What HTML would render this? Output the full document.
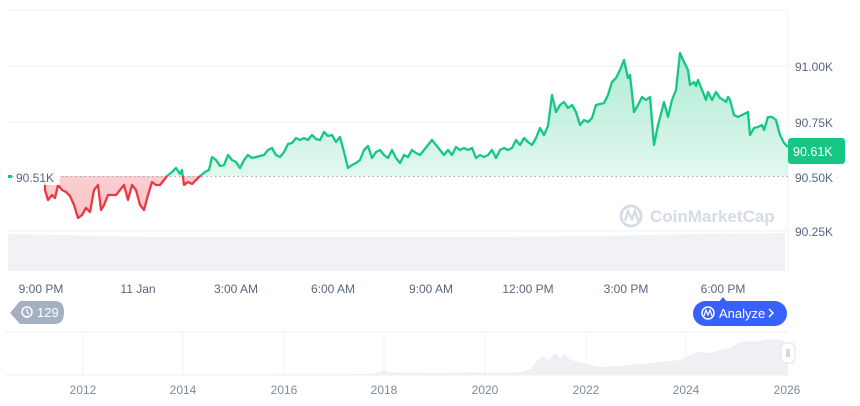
<!DOCTYPE html>
<html><head><meta charset="utf-8"><style>
body{margin:0;background:#fff;width:860px;height:401px;overflow:hidden;font-family:"Liberation Sans",sans-serif}
</style></head><body>
<svg width="860" height="401" viewBox="0 0 860 401" xmlns="http://www.w3.org/2000/svg" font-family="Liberation Sans, sans-serif">
<defs>
<linearGradient id="gg" x1="0" y1="0" x2="0" y2="1"><stop offset="0" stop-color="#16c784" stop-opacity="0.35"/><stop offset="1" stop-color="#16c784" stop-opacity="0.05"/></linearGradient>
<linearGradient id="rg" x1="0" y1="0" x2="0" y2="1"><stop offset="0" stop-color="#ea3943" stop-opacity="0.08"/><stop offset="1" stop-color="#ea3943" stop-opacity="0.3"/></linearGradient>
<clipPath id="above"><rect x="0" y="0" width="788" height="176"/></clipPath>
<clipPath id="below"><rect x="0" y="176" width="788" height="100"/></clipPath>
</defs>
<g stroke="#eff2f5" stroke-width="1">
<line x1="8" y1="10" x2="788" y2="10"/>
<line x1="8" y1="66" x2="788" y2="66"/>
<line x1="8" y1="122" x2="788" y2="122"/>
<line x1="8" y1="231" x2="788" y2="231"/>
<line x1="788" y1="10" x2="788" y2="272"/>
</g>
<rect x="8" y="237" width="777" height="34" fill="#f0f2f5"/>
<polygon points="8,234 60,235 200,238 400,238 600,236 700,234 785,233 785,237 8,237" fill="#f0f2f5"/>
<g>
<circle cx="631" cy="216" r="10" fill="none" stroke="#d5dbe5" stroke-width="2.8"/>
<path d="M625,221 L628,211 L632,219 L635,211 L638,221" fill="none" stroke="#d5dbe5" stroke-width="2.3"/>
<text x="650" y="222" font-size="17" font-weight="bold" fill="#d5dbe5">CoinMarketCap</text>
</g>
<g id="series">
<polyline id="pl" fill="none" points="45,182 45,190 48,200 52,195 55,198 58,185 62,190 66,192 70,196 74,205 78,218 82,215 86,208 90,212 94,190 98,185 101,210 104,205 108,195 112,195 116,195 120,190 124,185 128,200 132,185 136,190 140,205 144,210 148,195 152,182 156,185 160,185 164,180 167,176 172,172 176,168 180,174 182,170 184,185 188,182 192,184 196,180 200,176 205,172 209,170 212,157 216,160 220,166 224,165 228,155 232,160 236,162 240,168 244,160 248,155 252,158 256,157 260,156 264,155 268,150 272,148 276,155 280,157 284,152 288,144 292,143 296,138 300,140 304,138 308,140 312,135 316,139 320,140 324,132 328,136 332,135 336,142 340,137 344,152 348,168 352,165 356,163 360,160 364,150 368,146 372,158 376,152 380,150 384,155 388,158 392,150 396,158 400,163 404,155 408,157 412,150 416,153 420,155 424,150 428,145 432,140 436,145 440,150 444,155 448,150 452,155 456,147 460,150 464,148 468,150 472,148 476,158 480,155 484,157 488,155 492,150 496,158 500,150 504,148 508,150 512,148 516,140 520,145 524,138 528,142 532,145 536,138 540,128 544,135 548,126 552,95 556,112 560,105 564,102 568,108 572,105 576,112 580,125 584,120 588,122 592,118 596,105 600,104 604,103 608,95 612,82 616,78 620,70 624,60 628,78 630,75 634,112 638,105 642,97 646,100 650,97 654,145 658,125 662,110 664,102 668,117 672,100 676,90 680,53 684,62 688,70 690,85 694,82 696,86 698,80 702,90 706,100 708,92 712,100 716,92 720,98 722,99 726,102 728,97 730,100 734,115 738,117 742,115 746,113 748,112 750,135 754,128 758,127 762,125 764,130 768,117 772,117 776,120 780,135 784,143 788,147"/>
</g>
<script>
(function(){
var p=document.getElementById('pl').getAttribute('points').trim();
var pts=p.split(/\s+/);var first=pts[0].split(','),last=pts[pts.length-1].split(',');
var poly=p+' '+last[0]+',176 '+first[0]+',176';
var ns='http://www.w3.org/2000/svg',g=document.getElementById('series');
g.innerHTML='';
function mk(fill,clip,fillpts){var e=document.createElementNS(ns,'polygon');e.setAttribute('points',fillpts);e.setAttribute('fill',fill);e.setAttribute('clip-path','url(#'+clip+')');g.appendChild(e);}
mk('url(#gg)','above',poly);mk('url(#rg)','below',poly);
var d=document.createElementNS(ns,'line');d.setAttribute('x1',8);d.setAttribute('x2',788);d.setAttribute('y1',176.5);d.setAttribute('y2',176.5);d.setAttribute('stroke','#a1a7bb');d.setAttribute('stroke-dasharray','1.5 3');g.appendChild(d);
function ln(c,clip){var e=document.createElementNS(ns,'polyline');e.setAttribute('points',p);e.setAttribute('fill','none');e.setAttribute('stroke',c);e.setAttribute('stroke-width','2.3');e.setAttribute('stroke-linejoin','round');e.setAttribute('clip-path','url(#'+clip+')');g.appendChild(e);}
ln('#16c784','above');ln('#ea3943','below');
})();
</script>
<rect x="8" y="175" width="4" height="3" fill="#16c784"/>
<rect x="14" y="169" width="46" height="16" fill="#fff" opacity="0.85"/>
<text x="16" y="182" font-size="12" fill="#58667e">90.51K</text>
<g font-size="12" fill="#58667e">
<text x="795" y="71">91.00K</text>
<text x="795" y="127">90.75K</text>
<text x="795" y="182">90.50K</text>
<text x="795" y="236">90.25K</text>
</g>
<rect x="788" y="138" width="57" height="26" rx="3" fill="#16c784"/>
<text x="793" y="156" font-size="12.5" fill="#fff">90.61K</text>
<g font-size="12" fill="#58667e" text-anchor="middle">
<text x="41" y="293">9:00 PM</text>
<text x="138" y="293">11 Jan</text>
<text x="236" y="293">3:00 AM</text>
<text x="333" y="293">6:00 AM</text>
<text x="431" y="293">9:00 AM</text>
<text x="528" y="293">12:00 PM</text>
<text x="626" y="293">3:00 PM</text>
<text x="723" y="293">6:00 PM</text>
</g>
<path d="M20,301 L55,301 Q64,301 64,312 Q64,324 55,324 L20,324 L10,313 Z" fill="#a6b0c3"/>
<circle cx="27" cy="312" r="5" fill="none" stroke="#fff" stroke-width="1.5"/>
<path d="M27,309 L27,312 L29,314" stroke="#fff" stroke-width="1.3" fill="none"/>
<text x="37" y="317" font-size="13" fill="#fff">129</text>
<path d="M723,297 L727,302 L719,302 Z" fill="#3861fb"/>
<rect x="693" y="301" width="94" height="25" rx="12.5" fill="#3861fb"/>
<circle cx="708" cy="313" r="6" fill="none" stroke="#fff" stroke-width="1.5"/>
<path d="M704,316 L706,310 L708,315 L710,310 L712,316" stroke="#fff" stroke-width="1.2" fill="none"/>
<text x="719" y="318" font-size="13" fill="#fff">Analyze</text>
<path d="M769,309 L773,313 L769,317" stroke="#fff" stroke-width="1.5" fill="none"/>
<g stroke="#eff2f5"><line x1="5" y1="332" x2="788" y2="332"/><line x1="5" y1="375" x2="788" y2="375"/>
<line x1="83" y1="332" x2="83" y2="375"/><line x1="183" y1="332" x2="183" y2="375"/><line x1="284" y1="332" x2="284" y2="375"/><line x1="384" y1="332" x2="384" y2="375"/><line x1="485" y1="332" x2="485" y2="375"/><line x1="586" y1="332" x2="586" y2="375"/><line x1="686" y1="332" x2="686" y2="375"/></g>
<polygon fill="#eef0f3" points="5,375 370,374 380,372 384,369 388,372 420,373 450,373 470,372 490,373 520,372 530,369 538,360 542,356 548,360 555,353 560,358 565,354 570,360 580,362 590,365 600,367 620,366 640,364 660,362 680,360 690,355 695,353 700,352 710,353 720,350 730,348 738,343 745,341 755,342 765,340 775,339 783,340 788,345 788,375"/>
<rect x="781" y="343" width="14" height="20" rx="5" fill="#fff" stroke="#dfe3ea"/>
<line x1="787" y1="349" x2="787" y2="357" stroke="#a6b0c3"/><line x1="789" y1="349" x2="789" y2="357" stroke="#a6b0c3"/>
<g font-size="12" fill="#808a9d" text-anchor="middle">
<text x="83" y="394">2012</text><text x="183" y="394">2014</text><text x="284" y="394">2016</text><text x="384" y="394">2018</text><text x="485" y="394">2020</text><text x="586" y="394">2022</text><text x="686" y="394">2024</text><text x="787" y="394">2026</text>
</g>
</svg>
</body></html>
